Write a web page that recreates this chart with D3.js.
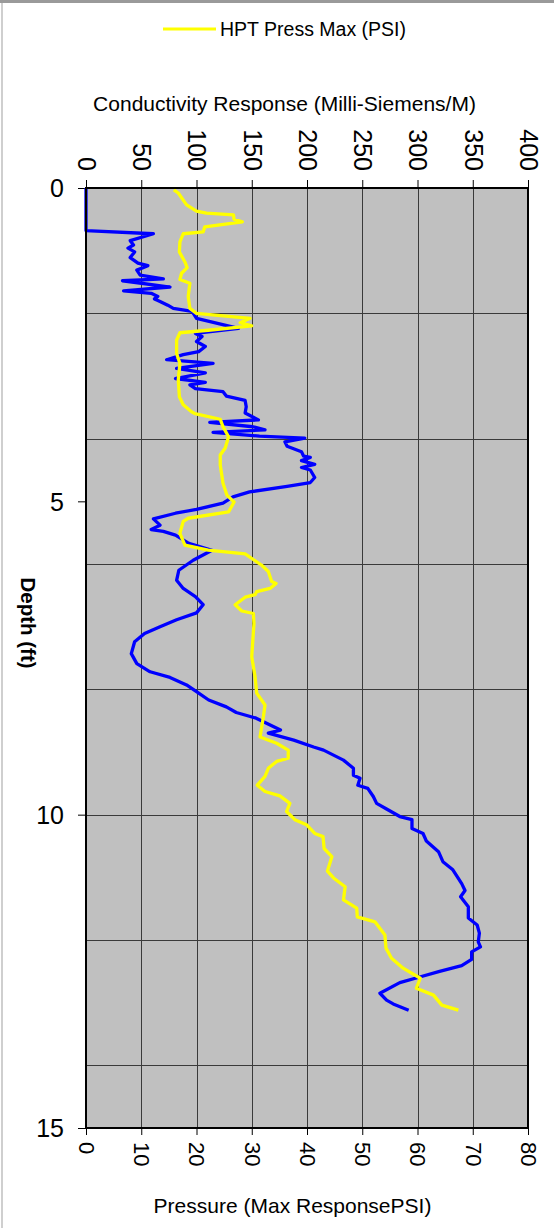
<!DOCTYPE html>
<html>
<head>
<meta charset="utf-8">
<script src="https://cdn.jsdelivr.net/npm/d3@7"></script>
<style>
  body { margin: 0; background: #fff; }
  svg { display: block; font-family: "Liberation Sans", Arial, sans-serif; }
  .tick text { fill: #000; }
</style>
</head>
<body>
<div id="chart"></div>
<script>
// conductivity log (blue, top axis)
var condDepth = [0, 0.68, 0.73, 0.84, 0.91, 0.96, 1.02, 1.11, 1.20, 1.24, 1.31, 1.39, 1.45, 1.48, 1.58, 1.64,
  1.68, 1.73, 1.77, 1.81, 1.87, 1.92, 1.97, 2.08, 2.24, 2.32, 2.37, 2.45, 2.53, 2.61, 2.66, 2.74, 2.80, 2.88,
  2.95, 3.04, 3.10, 3.14, 3.20, 3.25, 3.32, 3.39, 3.49, 3.59, 3.70, 3.74, 3.81, 3.86, 3.90, 3.96, 3.99, 4.05,
  4.12, 4.21, 4.28, 4.30, 4.35, 4.41, 4.46, 4.50, 4.62, 4.70, 4.76, 4.85, 4.93, 5.03, 5.13, 5.19, 5.28, 5.38,
  5.45, 5.48, 5.54, 5.67, 5.78, 5.94, 6.10, 6.26, 6.39, 6.52, 6.65, 6.78, 6.89, 7.00, 7.11, 7.24, 7.43, 7.59,
  7.72, 7.81, 7.93, 8.06, 8.17, 8.28, 8.37, 8.46, 8.53, 8.65, 8.70, 8.81, 8.92, 8.97, 9.13, 9.26, 9.37, 9.42,
  9.53, 9.58, 9.71, 9.82, 9.91, 10.03, 10.08, 10.22, 10.30, 10.42, 10.59, 10.75, 10.88, 11.10, 11.21, 11.31,
  11.47, 11.65, 11.76, 11.89, 12.03, 12.11, 12.19, 12.31, 12.41, 12.50, 12.59, 12.68, 12.85, 12.96, 13.02, 13.12];
var conductivity = [0, 0, 61, 40, 43, 38, 44, 40, 47, 56, 46, 49, 70, 33, 76, 34,
  59, 65, 62, 67, 74, 79, 96, 100, 138, 99, 105, 100, 108, 102, 88, 73, 115, 82,
  108, 81, 108, 94, 99, 124, 127, 144, 145, 144, 156, 112, 151, 162, 115, 157, 198, 180,
  182, 195, 197, 203, 195, 207, 195, 203, 207, 203, 182, 148, 133, 124, 100, 81, 61, 67,
  59, 70, 81, 93, 114, 97, 84, 82, 88, 99, 106, 100, 82, 67, 53, 44, 41, 46,
  58, 76, 91, 102, 111, 127, 136, 154, 162, 176, 165, 188, 206, 215, 233, 242, 242, 248,
  246, 255, 260, 263, 272, 284, 295, 295, 305, 308, 319, 323, 332, 340, 343, 339,
  346, 346, 354, 356, 355, 357, 349, 349, 340, 320, 302, 284, 266, 272, 278, 292];

// HPT pressure log (yellow, bottom axis)
var pressDepth = [0.03, 0.08, 0.27, 0.37, 0.40, 0.43, 0.50, 0.54, 0.62, 0.70, 0.73, 0.86, 1.02, 1.18, 1.27,
  1.36, 1.46, 1.52, 1.73, 1.92, 2.00, 2.08, 2.15, 2.20, 2.27, 2.31, 2.43, 2.64, 2.80, 3.06, 3.33, 3.46, 3.57,
  3.60, 3.69, 3.81, 3.97, 4.15, 4.26, 4.42, 4.71, 4.90, 5.01, 5.17, 5.27, 5.32, 5.51, 5.70, 5.78, 5.84, 6.02,
  6.12, 6.28, 6.31, 6.39, 6.44, 6.49, 6.53, 6.65, 6.75, 6.79, 6.95, 7.21, 7.48, 7.80, 8.06, 8.25, 8.44, 8.60,
  8.76, 8.86, 8.97, 9.10, 9.15, 9.26, 9.39, 9.53, 9.63, 9.70, 9.82, 9.95, 10.08, 10.16, 10.30, 10.35, 10.54,
  10.67, 10.90, 11.01, 11.15, 11.36, 11.49, 11.63, 11.71, 11.92, 12.13, 12.29, 12.45, 12.61, 12.77, 12.88,
  13.04, 13.12];
var pressure = [15.9, 16.7, 18.2, 20.0, 21.8, 26.7, 26.8, 28.3, 21.5, 21.2, 17.6, 17.0, 16.9, 17.9, 18.3,
  17.3, 17.0, 18.8, 18.5, 18.8, 20.0, 29.7, 27.9, 30.0, 22.1, 17.0, 16.4, 16.4, 17.0, 16.7, 16.9, 17.6, 19.1,
  19.7, 24.3, 24.8, 25.8, 25.2, 24.3, 24.3, 24.8, 25.5, 26.8, 25.8, 18.5, 17.6, 17.0, 17.9, 22.1, 28.8, 31.8,
  33.0, 33.6, 34.4, 33.3, 30.9, 30.6, 28.8, 27.0, 28.2, 30.3, 30.4, 30.2, 30.0, 30.6, 30.9, 32.4, 32.1, 31.8,
  31.5, 34.5, 36.6, 36.6, 34.5, 33.0, 32.4, 31.0, 32.4, 35.1, 36.9, 36.3, 37.8, 39.9, 41.4, 42.9, 43.1,
  44.5, 43.7, 44.8, 46.9, 46.6, 49.0, 49.1, 52.3, 54.1, 54.3, 55.3, 57.4, 60.5, 59.8, 62.9,
  64.4, 67.4];

var condTicks = [0, 50, 100, 150, 200, 250, 300, 350, 400];
var pressTicks = [0, 10, 20, 30, 40, 50, 60, 70, 80];
var depthTicks = [0, 5, 10, 15];
var depthGrid = [2, 4, 6, 8, 10, 12, 14];

var W = 554, H = 1228;
var margin = { left: 86, top: 188, right: 26, bottom: 100 };
var w = W - margin.left - margin.right;
var h = H - margin.top - margin.bottom;

var svg = d3.select('#chart').append('svg')
  .attr('width', W)
  .attr('height', H);

// outer frame edges
svg.append('rect').attr('x', 0).attr('y', 0).attr('width', W).attr('height', 3).attr('fill', '#9a9a9a');
svg.append('rect').attr('x', 1).attr('y', 3).attr('width', 2).attr('height', H).attr('fill', '#cfcfcf');

var g = svg.append('g')
  .attr('transform', 'translate(' + margin.left + ',' + margin.top + ')');

var xCond = d3.scaleLinear().domain([0, 400]).range([0, w]);
var xPress = d3.scaleLinear().domain([0, 80]).range([0, w]);
var y = d3.scaleLinear().domain([0, 15]).range([0, h]);

g.append('rect')
  .attr('width', w)
  .attr('height', h)
  .attr('fill', '#c0c0c0');

// gridlines
g.selectAll('.vgrid').data(condTicks.slice(1, -1)).enter().append('line')
  .attr('x1', function(d) { return Math.round(xCond(d)) + 0.5; })
  .attr('x2', function(d) { return Math.round(xCond(d)) + 0.5; })
  .attr('y1', 0).attr('y2', h)
  .attr('stroke', '#3a3a3a');
g.selectAll('.hgrid').data(depthGrid).enter().append('line')
  .attr('y1', function(d) { return Math.round(y(d)) + 0.5; })
  .attr('y2', function(d) { return Math.round(y(d)) + 0.5; })
  .attr('x1', 0).attr('x2', w)
  .attr('stroke', '#3a3a3a');

// top axis: conductivity
var topAxis = g.append('g')
  .call(d3.axisTop(xCond).tickValues(condTicks).tickSize(8).tickSizeOuter(0));
topAxis.select('.domain').remove();
topAxis.selectAll('text')
  .attr('transform', 'rotate(90)')
  .attr('x', -17).attr('y', 0).attr('dy', '0.35em')
  .style('text-anchor', 'end')
  .style('font-size', '25px');

// bottom axis: pressure
var botAxis = g.append('g')
  .attr('transform', 'translate(0,' + h + ')')
  .call(d3.axisBottom(xPress).tickValues(pressTicks).tickSize(7).tickSizeOuter(0));
botAxis.select('.domain').remove();
botAxis.selectAll('text')
  .attr('transform', 'rotate(90)')
  .attr('x', 14).attr('y', 0).attr('dy', '0.35em')
  .style('text-anchor', 'start')
  .style('font-size', '22px');

// left axis: depth
var leftAxis = g.append('g')
  .call(d3.axisLeft(y).tickValues(depthTicks).tickSize(8).tickSizeOuter(0));
leftAxis.select('.domain').remove();
leftAxis.selectAll('text')
  .attr('x', -22)
  .attr('dy', '0.35em')
  .style('font-size', '25px');

// data lines
var condLine = d3.line()
  .x(function(d, i) { return xCond(conductivity[i]); })
  .y(function(d) { return y(d); });
g.append('path')
  .datum(condDepth)
  .attr('d', condLine)
  .attr('fill', 'none')
  .attr('stroke', '#0000ff')
  .attr('stroke-width', 3.3)
  .attr('stroke-linejoin', 'round');

var pressLine = d3.line()
  .x(function(d, i) { return xPress(pressure[i]); })
  .y(function(d) { return y(d); });
g.append('path')
  .datum(pressDepth)
  .attr('d', pressLine)
  .attr('fill', 'none')
  .attr('stroke', '#ffff00')
  .attr('stroke-width', 3.3)
  .attr('stroke-linejoin', 'round');

// plot border
g.append('rect')
  .attr('width', w)
  .attr('height', h)
  .attr('fill', 'none')
  .attr('stroke', '#000')
  .attr('stroke-width', 2);

// titles
svg.append('text')
  .attr('x', 284.5).attr('y', 111)
  .attr('text-anchor', 'middle')
  .style('font-size', '21px')
  .text('Conductivity Response (Milli-Siemens/M)');
svg.append('text')
  .attr('x', 292.5).attr('y', 1213)
  .attr('text-anchor', 'middle')
  .style('font-size', '21px')
  .text('Pressure (Max ResponsePSI)');
svg.append('text')
  .attr('transform', 'translate(21,623) rotate(90)')
  .attr('text-anchor', 'middle')
  .style('font-size', '20.5px')
  .style('font-weight', 'bold')
  .text('Depth (ft)');

// legend
svg.append('line')
  .attr('x1', 163).attr('x2', 216)
  .attr('y1', 29).attr('y2', 29)
  .attr('stroke', '#ffff00')
  .attr('stroke-width', 3);
svg.append('text')
  .attr('x', 220).attr('y', 36)
  .style('font-size', '19.5px')
  .text('HPT Press Max (PSI)');
</script>
</body>
</html>
